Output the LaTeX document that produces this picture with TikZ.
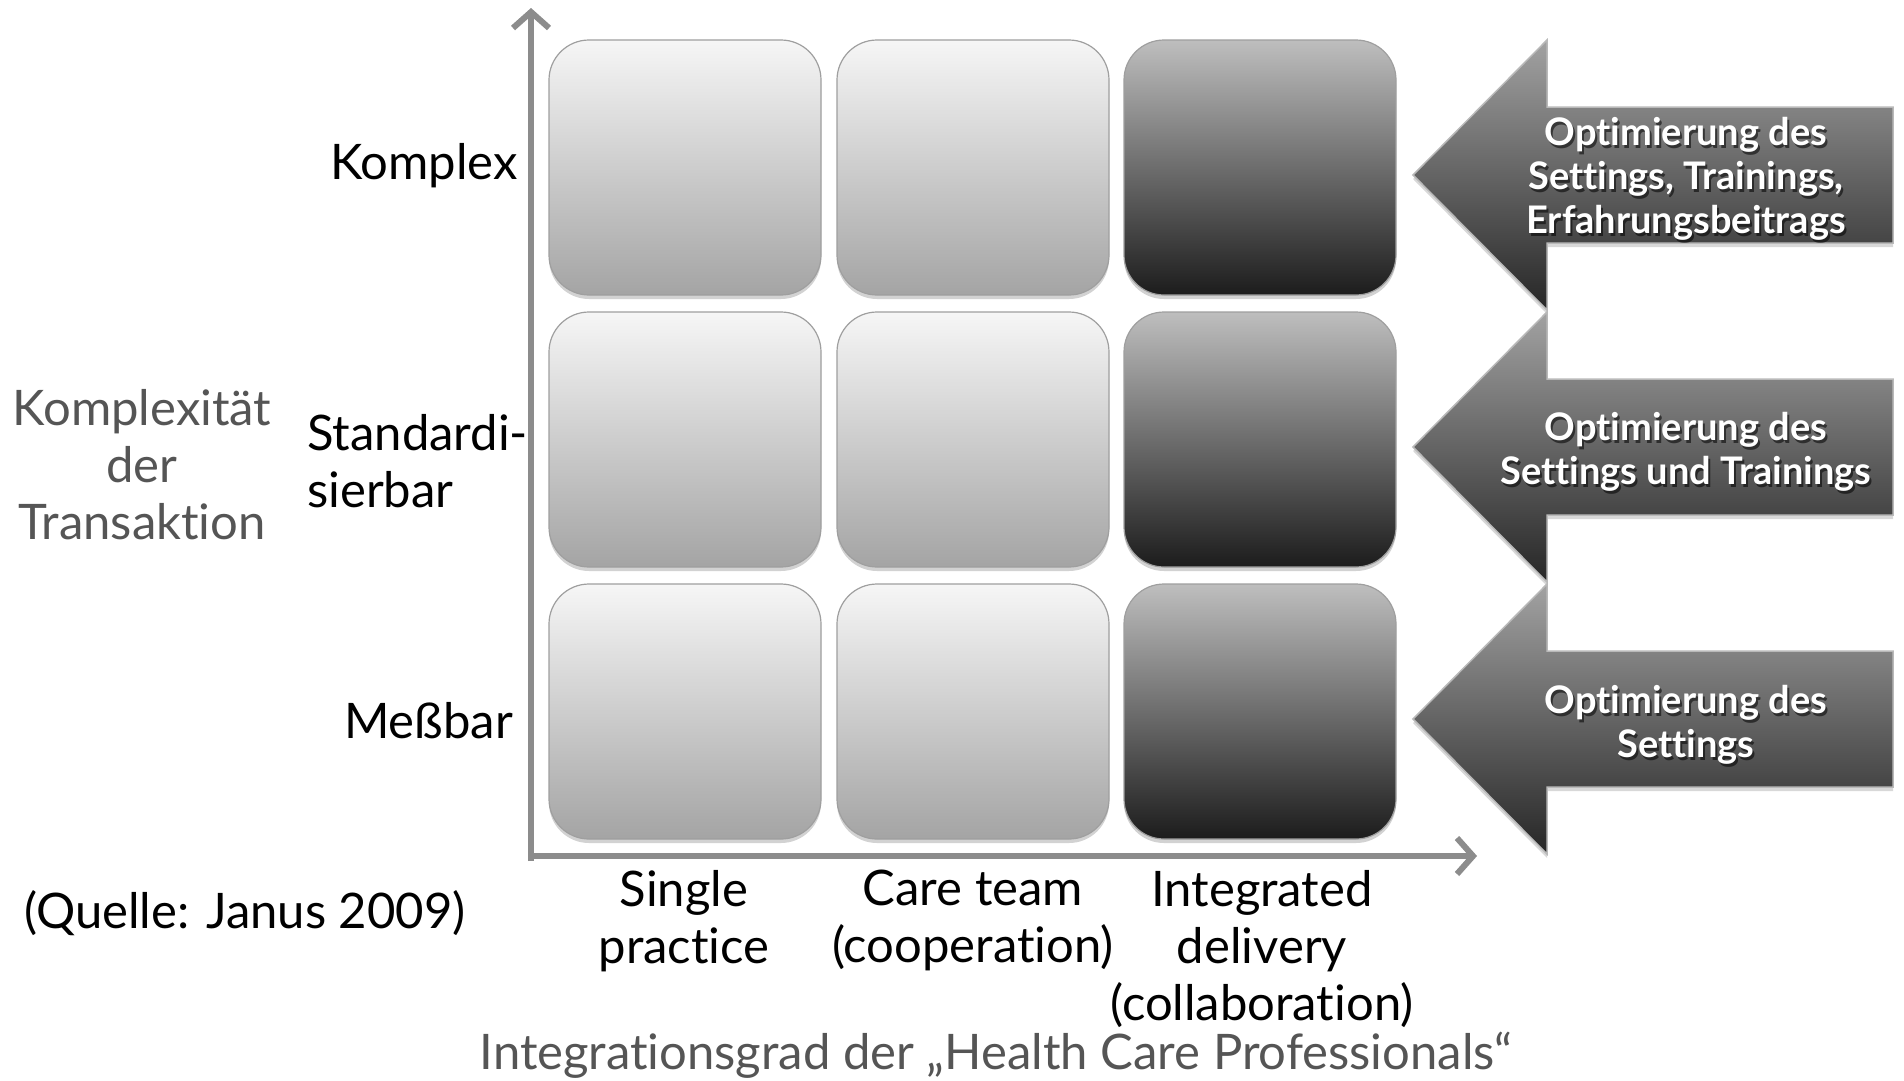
\documentclass[tikz,border=0pt]{standalone}
\usepackage{fontspec}
\setmainfont{Lato}[Ligatures={NoCommon}]
\usetikzlibrary{shadows,arrows.meta}

\definecolor{axisgray}{HTML}{8C8C8C}
\definecolor{labelgray}{HTML}{555555}
\definecolor{lighttop}{HTML}{F6F6F6}
\definecolor{lightbot}{HTML}{A4A4A4}
\definecolor{darktop}{HTML}{BEBEBE}
\definecolor{darkbot}{HTML}{1C1C1C}
\definecolor{arrowtop}{HTML}{A2A2A2}
\definecolor{arrowbot}{HTML}{262626}

\tikzset{
  cell/.style={rounded corners=40pt, minimum width=272pt, minimum height=255pt,
    inner sep=0pt, outer sep=0pt, draw=gray!75, line width=1.2pt,
    drop shadow={opacity=0.35, shadow xshift=0pt, shadow yshift=-4pt}},
  lightcell/.style={cell, top color=lighttop, bottom color=lightbot},
  darkcell/.style={cell, top color=darktop, bottom color=darkbot},
  axisline/.style={draw=axisgray, line width=6pt,
    -{Straight Barb[length=16pt, width=36pt, line width=6pt]}},
  lbl/.style={font=\fontsize{49}{57}\selectfont, inner sep=0pt, text=black},
  arrowbody/.style={top color=arrowtop, bottom color=arrowbot, draw=gray!55,
    line width=1.5pt, line join=miter,
    drop shadow={opacity=0.3, shadow xshift=0pt, shadow yshift=-4pt}},
  arrowtext/.style={font=\fontsize{38}{44}\selectfont\bfseries, align=center,
    inner sep=0pt, text=white},
  arrowshadow/.style={arrowtext, text=black, text opacity=0.55},
}

\begin{document}
\begin{tikzpicture}[x=1pt, y=-1pt]
  \useasboundingbox[fill=white] (0,0) rectangle (1904,1080);

  % axes
  \coordinate (ytip) at (531,8);
  \coordinate (xtip) at (1477,856);
  \coordinate (ystart) at (531,861);
  \coordinate (xstart) at (528,856);
  \draw[axisline] (ystart) -- (ytip);
  \draw[axisline] (xstart) -- (xtip);

  % grid of cells
  \node[lightcell] (c11) at (685,167.5) {};
  \node[lightcell] (c12) at (973,167.5) {};
  \node[darkcell]  (c13) at (1260,167.5) {};
  \node[lightcell] (c21) at (685,439.5) {};
  \node[lightcell] (c22) at (973,439.5) {};
  \node[darkcell]  (c23) at (1260,439.5) {};
  \node[lightcell] (c31) at (685,711.5) {};
  \node[lightcell] (c32) at (973,711.5) {};
  \node[darkcell]  (c33) at (1260,711.5) {};

  % left-pointing block arrows
  \foreach \dy in {0,272,544} {
    \path[arrowbody] (1413,175+\dy) -- (1547,40+\dy) -- (1547,107+\dy)
      -- (1893,107+\dy) -- (1893,243+\dy) -- (1547,243+\dy)
      -- (1547,310+\dy) -- cycle;
  }

  % arrow texts (shadow first, then white)
  \node[arrowshadow] (a1s) at (1688,182) {Optimierung des\\Settings, Trainings,\\Erfahrungsbeitrags};
  \node[arrowtext]   (a1)  at (1686,179) {Optimierung des\\Settings, Trainings,\\Erfahrungsbeitrags};
  \node[arrowshadow] (a2s) at (1688,455) {Optimierung des\\Settings und Trainings};
  \node[arrowtext]   (a2)  at (1686,452) {Optimierung des\\Settings und Trainings};
  \node[arrowshadow] (a3s) at (1688,728) {Optimierung des\\Settings};
  \node[arrowtext]   (a3)  at (1686,725) {Optimierung des\\Settings};

  % row labels
  \node[lbl, anchor=base east] (r1) at (518,179) {Komplex};
  \node[lbl, anchor=west, align=left] (r2) at (307,461) {Standardi-\\sierbar};
  \node[lbl, anchor=base east] (r3) at (513,738) {Meßbar};

  % axis titles
  \node[lbl, align=center, text=labelgray] (ytitle) at (142,465)
    {Komplexität\\der\\Transaktion};
  \node[lbl, anchor=base, text=labelgray] (xtitle) at (996,1069)
    {Integrationsgrad der „Health Care Professionals“};

  % column labels
  \node[lbl, anchor=north, align=center] (k1) at (684,870) {Single\\practice};
  \node[lbl, anchor=north, align=center] (k2) at (973,870) {Care team\\(cooperation)};
  \node[lbl, anchor=north, align=center] (k3) at (1262,870) {Integrated\\delivery\\(collaboration)};

  % source
  \node[lbl, anchor=base west] (src) at (24,928) {(Quelle: Janus 2009)};
\end{tikzpicture}
\end{document}
